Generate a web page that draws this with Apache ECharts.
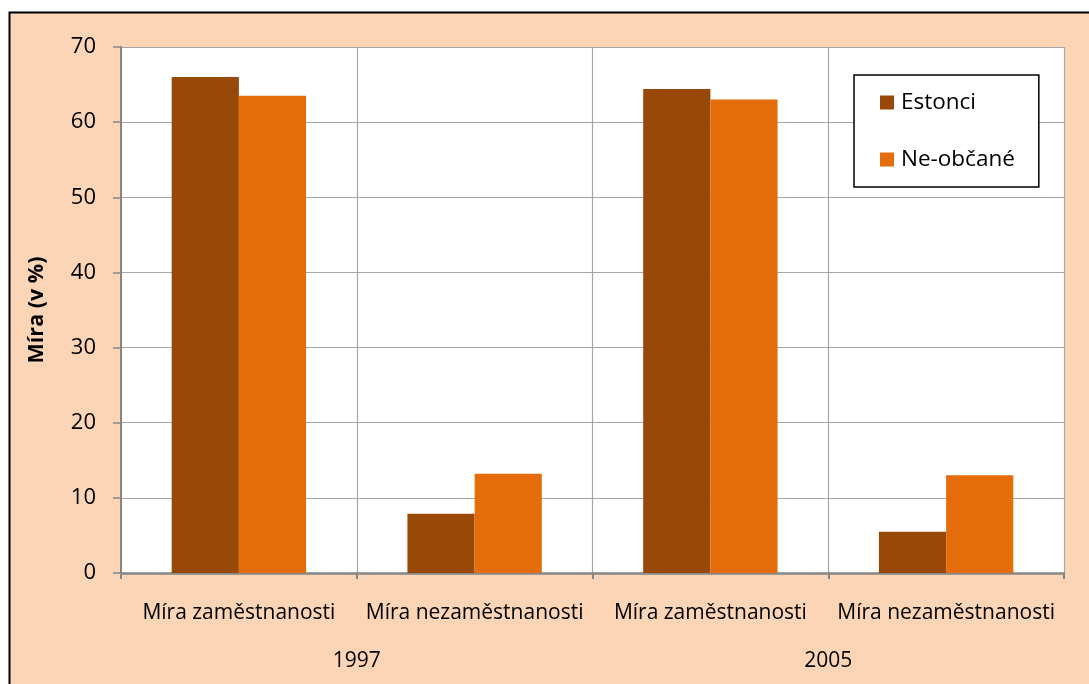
<!DOCTYPE html>
<html><head><meta charset="utf-8">
<script src="https://cdn.jsdelivr.net/npm/echarts@6/dist/echarts.min.js"></script>
<style>html,body{margin:0;padding:0;background:#fff;}#c{width:1089px;height:684px;}</style>
</head><body><div id="c"></div>
<script>
const categories = ['Míra zaměstnanosti','Míra nezaměstnanosti','Míra zaměstnanosti','Míra nezaměstnanosti'];
const years = ['1997','2005'];
const estonci = [66.0, 7.9, 64.4, 5.5];
const neObcane = [63.5, 13.2, 63.0, 13.0];
const seriesNames = ['Estonci','Ne-občané'];
const yTicks = {min:0, max:70, interval:10};

const font = '"Open Sans", sans-serif';
const chart = echarts.init(document.getElementById('c'));
chart.setOption({
  backgroundColor:'#fff',
  animation:false,
  graphic:[{type:'rect',z:-10,shape:{x:9.5,y:12.5,width:1100,height:700},style:{fill:'#FBD5B5',stroke:'#000',lineWidth:2}}],
  grid:{left:121,top:47,right:25,bottom:111,show:true,backgroundColor:'#fff',borderWidth:0},
  legend:{
    orient:'vertical',left:854,top:75,
    backgroundColor:'#fff',borderColor:'#000',borderWidth:1.5,
    padding:[16,24,16,26],itemGap:34,itemWidth:14,itemHeight:14,
    icon:'rect',
    textStyle:{fontFamily:font,fontSize:22.5,color:'#000',padding:[0,0,0,2]},
    data:seriesNames
  },
  xAxis:[{
    type:'category',data:categories,position:'bottom',
    axisLine:{lineStyle:{color:'#868686',width:2.5}},
    axisTick:{show:true,length:6,lineStyle:{color:'#868686',width:2}},
    splitLine:{show:true,lineStyle:{color:'#A6A6A6',width:1.2}},
    axisLabel:{fontFamily:font,fontSize:21,color:'#000',margin:30,interval:0}
  },{
    type:'category',data:years,position:'bottom',offset:48,
    axisLine:{show:false},axisTick:{show:false},splitLine:{show:false},
    axisLabel:{fontFamily:font,fontSize:21,color:'#000',margin:30}
  }],
  yAxis:{
    type:'value',min:yTicks.min,max:yTicks.max,interval:yTicks.interval,
    name:'Míra (v %)',nameLocation:'middle',nameGap:73,
    nameTextStyle:{fontFamily:font,fontSize:21.5,fontWeight:'bold',color:'#000'},
    axisLine:{show:true,lineStyle:{color:'#868686',width:2}},
    axisTick:{show:true,length:8,lineStyle:{color:'#868686',width:1.5}},
    splitLine:{lineStyle:{color:'#A6A6A6',width:1.2}},
    axisLabel:{fontFamily:font,fontSize:22,color:'#000',margin:25}
  },
  series:[
    {name:seriesNames[0],type:'bar',data:estonci,barGap:'0%',barCategoryGap:'43%',itemStyle:{color:'#984807'}},
    {name:seriesNames[1],type:'bar',data:neObcane,barGap:'0%',barCategoryGap:'43%',itemStyle:{color:'#E46C0A'}}
  ]
});
</script></body></html>
